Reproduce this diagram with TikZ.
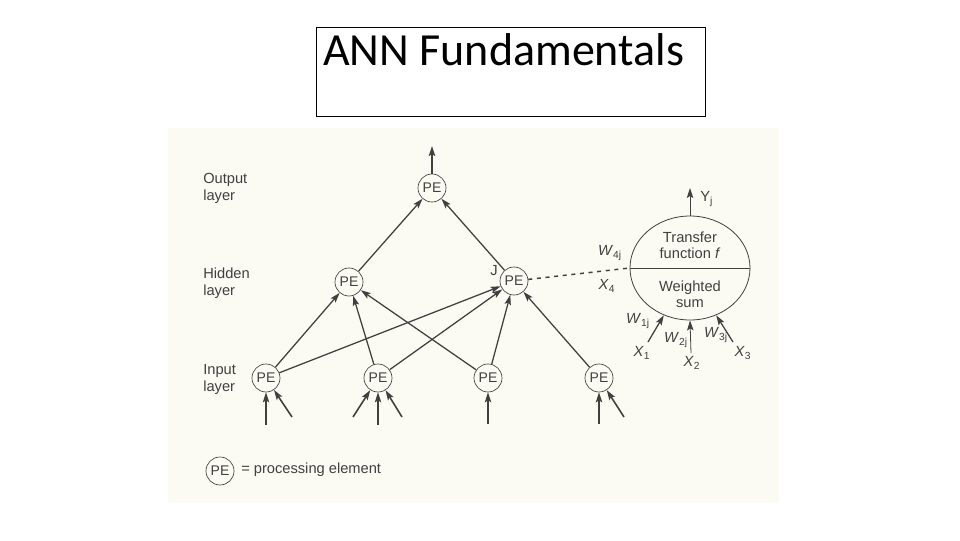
\documentclass[tikz,border=0pt]{standalone}
\usepackage{fontspec}
\setmainfont{Carlito}
\newfontfamily\figfont{Liberation Sans}
\usetikzlibrary{arrows.meta,shapes.geometric}
\definecolor{ink}{HTML}{404040}
\definecolor{paper}{HTML}{FBFBF4}
\tikzset{
  pe/.style={circle,draw=ink,line width=0.5pt,minimum size=21pt,inner sep=0pt,
    font=\figfont\fontsize{10.5}{10.5}\selectfont,text=ink},
  tip/.style={-{Stealth[length=7.5pt,width=4.8pt,inset=1.5pt]}},
  arr/.style={draw=ink,line width=0.95pt,tip},
  lbl/.style={font=\figfont\fontsize{11}{12.75}\selectfont,text=ink,align=left,inner sep=0pt},
  wl/.style={font=\figfont\fontsize{11}{12}\selectfont,text=ink,inner sep=0pt},
}
\begin{document}
\begin{tikzpicture}[x=0.75pt,y=-0.75pt]
\useasboundingbox (0,0) rectangle (960,540);
\fill[white] (0,0) rectangle (960,540);
% title box
\draw[black,line width=0.75pt] (316,27) rectangle (705,116);
\node[anchor=base west,inner sep=0pt,font=\fontsize{34.5}{34.5}\selectfont] (title) at (323,65) {ANN Fundamentals};
% figure background
\fill[paper] (168,128) rectangle (779,503);
% layer labels
\node[lbl,anchor=west] (lout) at (203,188) {Output\\layer};
\node[lbl,anchor=west] (lhid) at (203,283) {Hidden\\layer};
\node[lbl,anchor=west] (lin) at (203,379) {Input\\layer};
% nodes
\node[pe] (o) at (432,188) {PE};
\node[pe] (h1) at (349,282) {PE};
\node[pe] (h2) at (514,281) {PE};
\node[pe] (i1) at (266,378) {PE};
\node[pe] (i2) at (378,378) {PE};
\node[pe] (i3) at (488,378) {PE};
\node[pe] (i4) at (599,378) {PE};
\node[lbl] (jl) at (494,271) {J};
% output arrow
\coordinate (otop) at (432,146);
\draw[arr,line width=1.3pt] (o) -- (otop);
% hidden -> output
\draw[arr] (h1) -- (o);
\draw[arr] (h2) -- (o);
% input -> hidden
\draw[arr] (i1) -- (h1);
\draw[arr] (i1) -- (h2);
\draw[arr] (i2) -- (h1);
\draw[arr] (i2) -- (h2);
\draw[arr] (i3) -- (h1);
\draw[arr] (i3) -- (h2);
\draw[arr] (i4) -- (h2);
% external inputs
\coordinate (a1) at (266,425);
\coordinate (b1) at (292,417);
\coordinate (a2) at (353,417);
\coordinate (b2) at (378,425);
\coordinate (c2) at (402,417);
\coordinate (a3) at (488,424);
\coordinate (a4) at (599,424);
\coordinate (b4) at (624,417);
\draw[arr,line width=1.2pt] (a1) -- (i1);
\draw[arr,line width=1.2pt] (b1) -- (i1);
\draw[arr,line width=1.2pt] (a2) -- (i2);
\draw[arr,line width=1.2pt] (b2) -- (i2);
\draw[arr,line width=1.2pt] (c2) -- (i2);
\draw[arr,line width=1.2pt] (a3) -- (i3);
\draw[arr,line width=1.2pt] (a4) -- (i4);
\draw[arr,line width=1.2pt] (b4) -- (i4);
% detail ellipse
\node[ellipse,draw=ink,line width=0.6pt,minimum width=90pt,minimum height=78pt,inner sep=0pt] (big) at (690,268) {};
\draw[ink,line width=0.6pt] (big.west) -- (big.east);
\draw[ink,line width=1.1pt,dash pattern=on 3pt off 3.5pt] (h2) -- (big.west);
\node[wl,align=center] (tf) at (690,245) {Transfer\\function \textit{f}};
\node[wl,align=center] (ws) at (690,294) {Weighted\\sum};
\coordinate (ytop) at (690,188);
\draw[ink,line width=0.6pt,tip] (big.north) -- (ytop);
\node[wl,anchor=west] (yj) at (700,199) {Y\textsubscript{j}};
\node[wl] (w4) at (610,253) {\textit{W}\textsubscript{4j}};
\node[wl] (x4) at (607,286) {\textit{X}\textsubscript{4}};
\coordinate (x1p) at (648,342);
\coordinate (x2p) at (691,353);
\coordinate (x3p) at (733,342);
\draw[arr] (x1p) -- (big.241);
\draw[ink,line width=0.6pt,tip] (x2p) -- (big.south);
\draw[arr] (x3p) -- (big.299);
\node[wl] (w1) at (638,321) {\textit{W}\textsubscript{1j}};
\node[wl] (w2) at (676,340) {\textit{W}\textsubscript{2j}};
\node[wl] (w3) at (716,335) {\textit{W}\textsubscript{3j}};
\node[wl] (xx1) at (642,353) {\textit{X}\textsubscript{1}};
\node[wl] (xx2) at (692,363) {\textit{X}\textsubscript{2}};
\node[wl] (xx3) at (743,353) {\textit{X}\textsubscript{3}};
% legend
\node[pe] (leg) at (220,471) {PE};
\node[lbl,anchor=west] (legt) at (241,470) {= processing element};
\end{tikzpicture}
\end{document}
